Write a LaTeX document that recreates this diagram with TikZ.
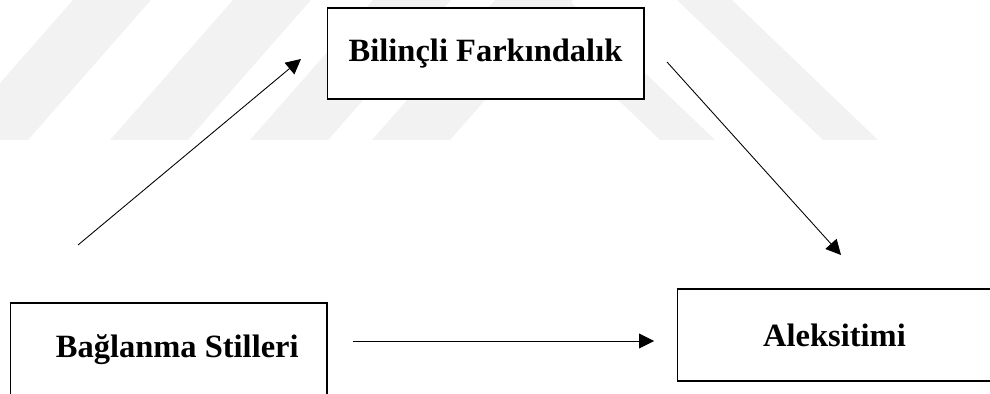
\documentclass[tikz,border=0pt]{standalone}
\usepackage{xcolor}
\usepackage{fontspec}
\setmainfont{Liberation Serif}
\usetikzlibrary{arrows.meta}

\begin{document}
\begin{tikzpicture}[x=0.02cm, y=-0.02cm,
    kutu/.style={draw, rectangle, fill=white, line width=0.6pt,
        font=\bfseries\fontsize{18.5}{21}\selectfont},
    ok/.style={-{Triangle[length=0.3cm,width=0.3cm]}, line width=0.5pt},
    serit/.style={fill=black!5}]
    \useasboundingbox (0,0) rectangle (990,394);
    \clip (0,0) rectangle (990,394);
    % silik arka plan seritleri
    \foreach \b in {-50,110,250,372}
        \fill[serit] (\b,140) -- (\b+78,140) -- (\b+201,0) -- (\b+123,0) -- cycle;
    \foreach \b in {660,823}
        \fill[serit] (\b,140) -- (\b+55,140) -- (\b-91,0) -- (\b-146,0) -- cycle;
    % kutular
    \node[kutu, minimum width=6.34cm, minimum height=1.82cm] (bilinc) at (485.5,53.5) {Bilinçli Farkındalık};
    \node[kutu, minimum width=6.34cm, minimum height=1.88cm] (baglanma) at (168.5,350) {\hspace{10pt}Bağlanma Stilleri};
    \node[kutu, minimum width=6.30cm, minimum height=1.84cm] (aleksitimi) at (834.5,335) {Aleksitimi};
    % oklarin uclari
    \coordinate (a1) at (78,245);
    \coordinate (a2) at (301,59);
    \coordinate (b1) at (667,62);
    \coordinate (b2) at (841,255);
    \coordinate (c1) at (353,341);
    \coordinate (c2) at (654,341);
    \draw[ok] (a1) -- (a2);
    \draw[ok] (b1) -- (b2);
    \draw[ok] (c1) -- (c2);
\end{tikzpicture}
\end{document}
